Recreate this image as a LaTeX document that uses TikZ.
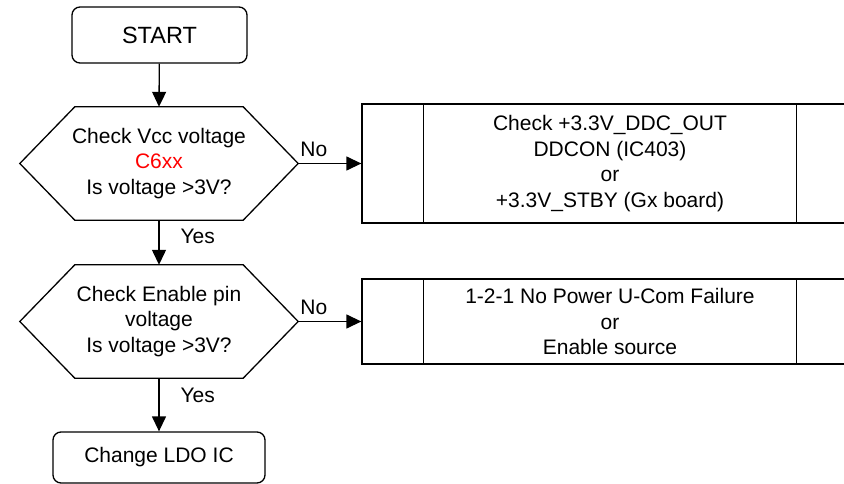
\documentclass[tikz,border=0pt]{standalone}
\usepackage{fontspec}
\setmainfont{Liberation Sans}
\usetikzlibrary{calc,arrows.meta}
\tikzset{
  flow/.style={line width=1.3pt,-{Triangle[length=15pt,width=14pt]}},
  term/.style={draw,line width=1.3pt,rounded corners=8pt,inner sep=0pt,align=center,font=\fontsize{21}{25}\selectfont},
  decision/.style={minimum width=278pt,minimum height=113pt,inner sep=0pt,align=center,font=\fontsize{21}{25.5}\selectfont},
  process/.style={draw,line width=1.3pt,minimum width=496pt,inner sep=0pt,align=center,font=\fontsize{21}{25.5}\selectfont},
  lbl/.style={inner sep=0pt,font=\fontsize{21}{25}\selectfont},
}
\newcommand\DrawDecision[1]{
  \draw[line width=1.3pt] (#1.west) -- ([xshift=55pt]#1.north west) -- ([xshift=-55pt]#1.north east)
    -- (#1.east) -- ([xshift=-55pt]#1.south east) -- ([xshift=55pt]#1.south west) -- cycle;
}
\newcommand\DrawSides[1]{
  \draw[line width=1.3pt] ([xshift=62pt]#1.north west) -- ([xshift=62pt]#1.south west);
  \draw[line width=1.3pt] ([xshift=-62pt]#1.north east) -- ([xshift=-62pt]#1.south east);
}
\begin{document}
\begin{tikzpicture}[x=1pt,y=-1pt]
\useasboundingbox (0,0) rectangle (844,484);
% left column
\node[term,minimum width=175pt,minimum height=56pt,font=\fontsize{23.5}{28}\selectfont] (start) at (159.5,35) {START};
\node[decision] (vcc) at (159,163.5) {Check Vcc voltage\\\textcolor{red}{C6xx}\\Is voltage >3V?};
\DrawDecision{vcc}
\node[decision] (enable) at (159,321.5) {Check Enable pin\\voltage\\Is voltage >3V?};
\DrawDecision{enable}
\node[term,minimum width=212pt,minimum height=51pt] (ldo) at (159,457.5) {Change LDO IC};
% right column
\node[process,minimum height=119pt] (ddc) at (610,163.5) {Check +3.3V\_DDC\_OUT\\DDCON (IC403)\\or\\+3.3V\_STBY (Gx board)};
\DrawSides{ddc}
\node[process,minimum height=85pt] (ucom) at (610,321.5) {1-2-1 No Power U-Com Failure\\or\\Enable source};
\DrawSides{ucom}
% connectors
\draw[flow] (start) -- (vcc.north);
\draw[flow] (vcc.south) -- node[lbl,anchor=west,xshift=21pt,yshift=6pt] {Yes} (enable.north);
\draw[flow] (enable.south) -- node[lbl,anchor=west,xshift=21pt,yshift=9pt] {Yes} (ldo);
\draw[flow] (vcc.east) -- node[lbl,xshift=-16pt,yshift=14pt] {No} (ddc);
\draw[flow] (enable.east) -- node[lbl,xshift=-16pt,yshift=14pt] {No} (ucom);
\end{tikzpicture}
\end{document}
